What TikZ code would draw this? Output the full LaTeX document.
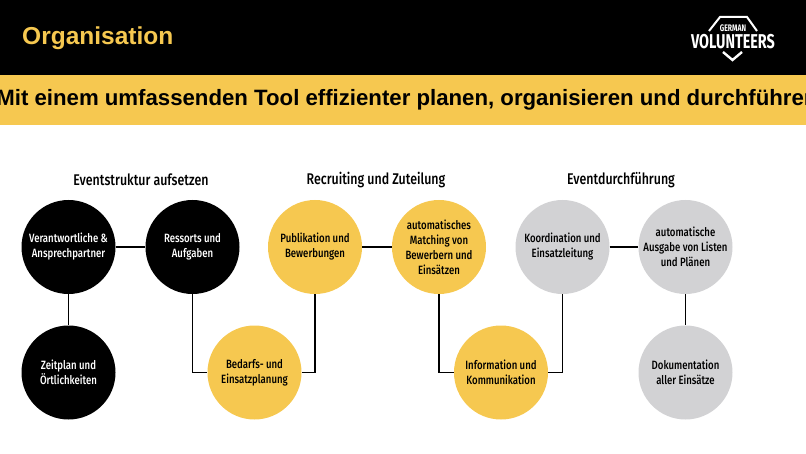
\documentclass[tikz,border=0pt]{standalone}
\usepackage{fontspec}
\usepackage{xcolor}
\setmainfont{Liberation Sans}
\newfontfamily\labelfont[FakeStretch=0.8]{Fira Sans Medium}
\newfontfamily\logofont[FakeStretch=0.72]{Fira Sans}
\definecolor{bandyellow}{HTML}{F6C850}
\definecolor{stepgrey}{HTML}{D2D2D4}
\tikzset{
  stepnode/.style={circle,minimum size=94pt,inner sep=0pt,align=center,font=\labelfont\fontsize{12}{15}\selectfont},
  blacknode/.style={stepnode,fill=black,text=white},
  yellownode/.style={stepnode,fill=bandyellow,text=black},
  greynode/.style={stepnode,fill=stepgrey,text=black},
  phase/.style={font=\labelfont\fontsize{15.5}{18}\selectfont},
  link/.style={line width=1.8pt,black}
}
\begin{document}
\begin{tikzpicture}[x=1pt,y=1pt]
\useasboundingbox (0,0) rectangle (806,453);
\fill[black] (0,378) rectangle (806,453);
\fill[bandyellow] (0,328) rectangle (806,378);
\node[anchor=west,text=bandyellow,font=\bfseries\fontsize{24.5}{28}\selectfont,inner sep=0pt] (title) at (22,415) {Organisation};
\node[anchor=center,font=\bfseries\fontsize{22.2}{26}\selectfont,inner sep=0pt] (claim) at (410,353) {Mit einem umfassenden Tool effizienter planen, organisieren und durchführen.};
\node[text=white,font=\logofont\bfseries\fontsize{9.5}{10}\selectfont,inner sep=0pt] (german) at (733,425) {GERMAN};
\node[text=white,font=\logofont\bfseries\fontsize{20}{22}\selectfont,inner sep=0pt] (volunteers) at (733,411) {VOLUNTEERS};
\draw[white,line width=2pt] (709,422) -- (720,436) -- (747,436) -- (757,422);
\draw[white,line width=2.4pt] (723,401) -- (732.5,393) -- (742,401);
\node[phase] (struktur) at (141,273) {Eventstruktur aufsetzen};
\node[phase] (recruiting) at (376,273) {Recruiting und Zuteilung};
\node[phase] (durchfuehrung) at (621,273) {Eventdurchführung};
\node[blacknode] (verantwortliche) at (68.5,206) {Verantwortliche \&\\Ansprechpartner};
\node[blacknode] (ressorts) at (192.5,206) {Ressorts und\\Aufgaben};
\node[blacknode] (zeitplan) at (68.5,80.5) {Zeitplan und\\Örtlichkeiten};
\node[yellownode] (bedarf) at (254.5,80.5) {Bedarfs- und\\Einsatzplanung};
\node[yellownode] (publikation) at (315,206) {Publikation und\\Bewerbungen};
\node[yellownode] (matching) at (439,206) {automatisches\\Matching von\\Bewerbern und\\Einsätzen};
\node[yellownode] (information) at (501,80.5) {Information und\\Kommunikation};
\node[greynode] (koordination) at (562.5,206) {Koordination und\\Einsatzleitung};
\node[greynode] (ausgabe) at (685.5,206) {automatische\\Ausgabe von Listen\\und Plänen};
\node[greynode] (dokumentation) at (685.5,80.5) {Dokumentation\\aller Einsätze};
\draw[link] (verantwortliche) -- (ressorts);
\draw[link] (verantwortliche) -- (zeitplan);
\draw[link] (ressorts) |- (bedarf);
\draw[link] (publikation) |- (bedarf);
\draw[link] (publikation) -- (matching);
\draw[link] (matching) |- (information);
\draw[link] (koordination) |- (information);
\draw[link] (koordination) -- (ausgabe);
\draw[link] (ausgabe) -- (dokumentation);
\end{tikzpicture}
\end{document}
